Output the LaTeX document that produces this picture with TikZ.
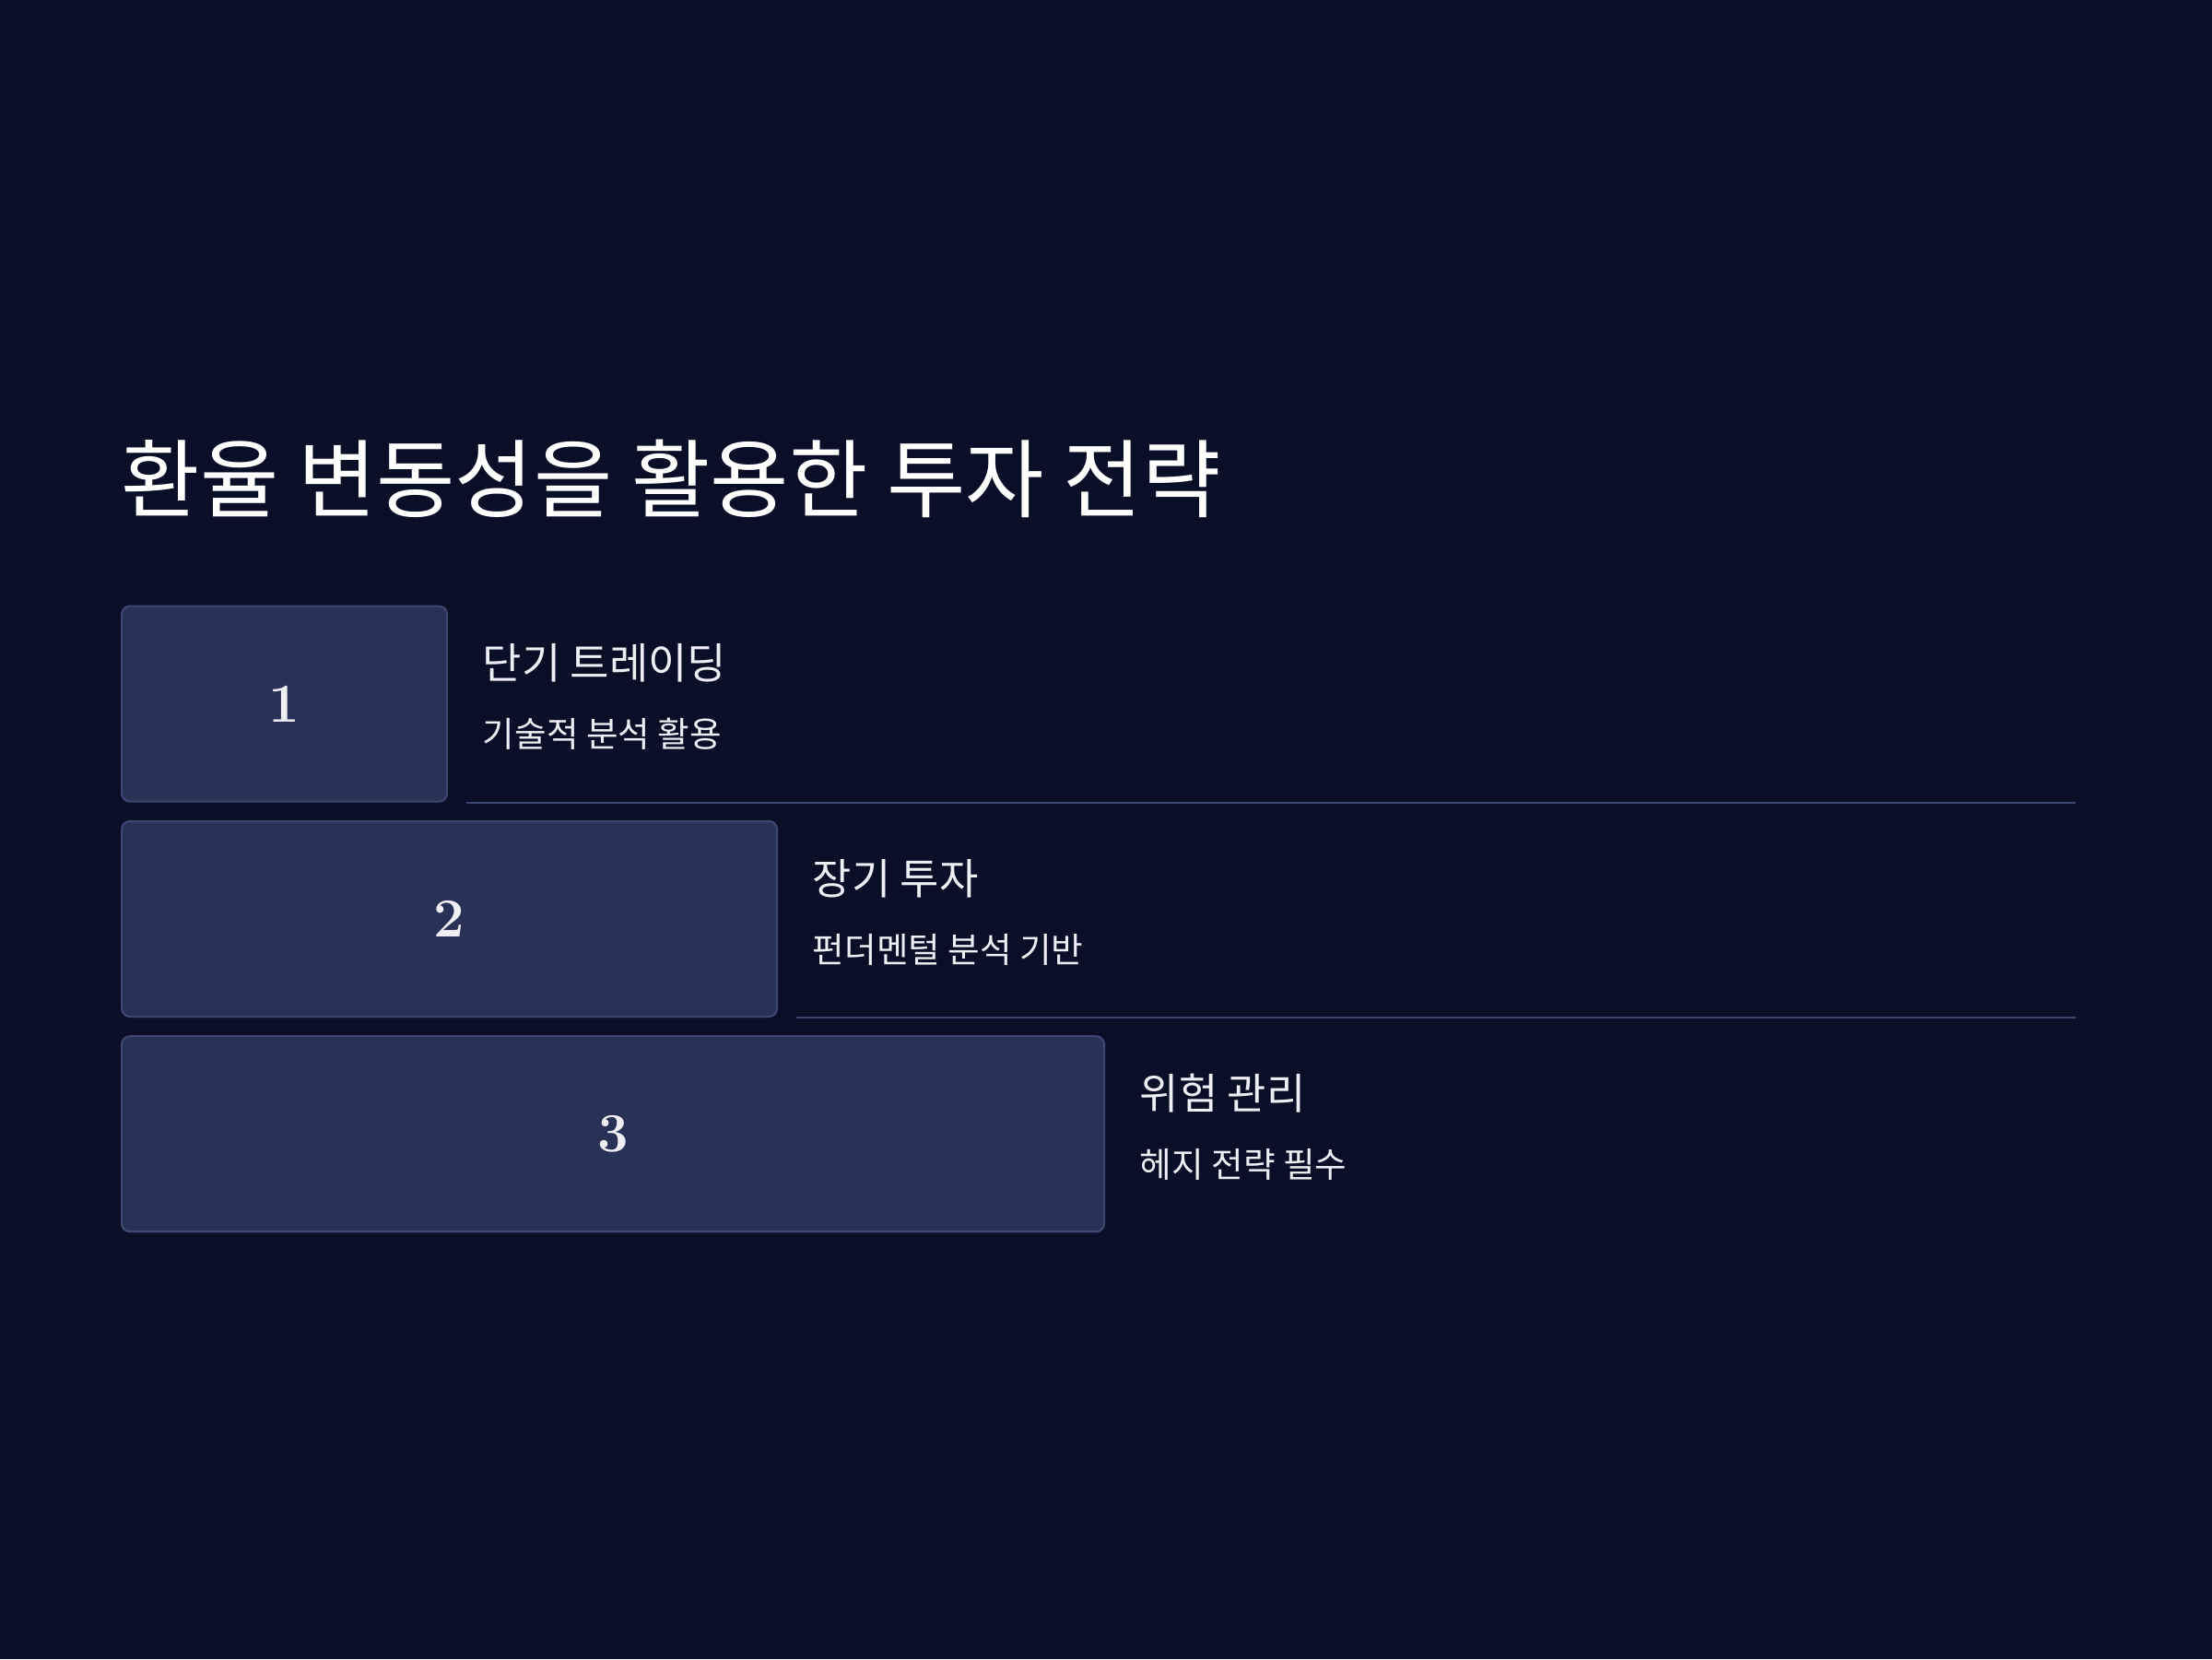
\documentclass[tikz,border=0pt]{standalone}
\usepackage{fontspec}
\newfontfamily\kr{Noto Sans CJK KR}
\definecolor{bgnavy}{HTML}{0A0E27}
\definecolor{boxfill}{HTML}{283156}
\definecolor{boxline}{HTML}{3E4772}
\definecolor{sepline}{HTML}{3D4870}
\definecolor{txt}{HTML}{EEEEF4}
\tikzset{
  stepbox/.style={draw=boxline, line width=0.6pt, fill=boxfill, rounded corners=2.5pt,
    minimum height=2.12cm, inner sep=0pt, anchor=north west},
  numtext/.style={text=txt, font={\bfseries\fontsize{17pt}{20pt}\selectfont}},
  headtext/.style={text=txt, anchor=west, inner sep=0pt, font={\kr\fontsize{13.1pt}{15pt}\selectfont}},
  subtext/.style={text=txt, anchor=west, inner sep=0pt, font={\kr\fontsize{10.7pt}{12pt}\selectfont}},
  rule/.style={draw=sepline, line width=0.6pt}
}

\begin{document}
\begin{tikzpicture}
		% Background
		\fill[bgnavy] (0,0) rectangle (24,18);
		\useasboundingbox (0,0) rectangle (24,18);
		\coordinate (rightedge) at (22.52,0);
		% Title
		\node[text=white, anchor=west, inner sep=0pt, font={\kr\fontsize{26.4pt}{30pt}\selectfont}] (title) at (1.31,12.81) {환율 변동성을 활용한 투자 전략};
		% Steps
		\foreach \i/\w/\head/\sub in {1/3.53/단기 트레이딩/기술적 분석 활용, 2/7.11/장기 투자/펀더멘털 분석 기반, 3/10.66/위험 관리/헤지 전략 필수}
		{
		\node[stepbox, minimum width=\w cm] (box\i) at (1.31,{11.434-(\i-1)*2.333}) {};
		\node[numtext] (num\i) at (box\i) {\i};
		\node[headtext] (head\i) at ([xshift=0.37cm, yshift=0.44cm]box\i.east) {\head};
		\node[subtext] (sub\i) at ([xshift=0.37cm, yshift=-0.33cm]box\i.east) {\sub};
		}
		% Separators
		\foreach \i in {1,2}
		\draw[rule] ([xshift=0.2cm]box\i.south east) -- (box\i.south east -| rightedge);
\end{tikzpicture}
\end{document}
